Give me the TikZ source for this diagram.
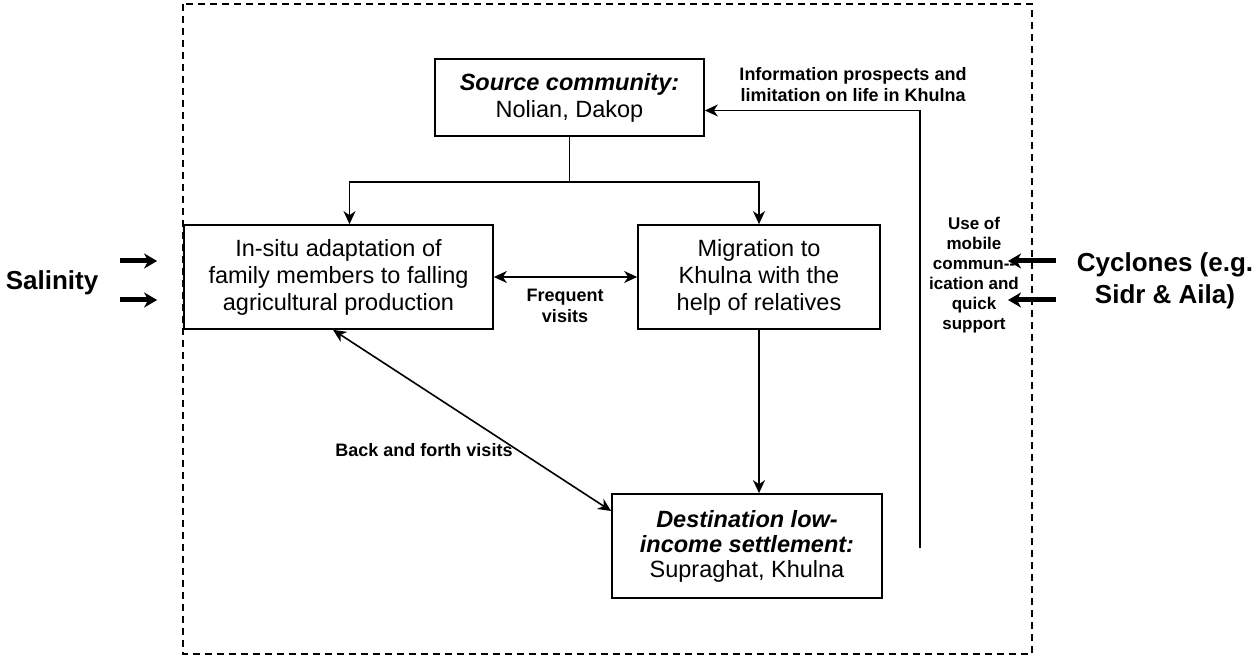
\documentclass[tikz,border=0pt]{standalone}
\usepackage{fontspec}
\setmainfont{Liberation Sans}
\usetikzlibrary{arrows.meta,positioning}
\tikzset{
  placenode/.style={draw,line width=1.7pt,align=center,inner sep=0pt,font=\fontsize{23.5}{27}\selectfont},
  notelabel/.style={align=center,font=\fontsize{18}{21}\selectfont\bfseries},
  bigtext/.style={align=center,font=\fontsize{26}{32}\selectfont\bfseries},
  flow/.style={-{Stealth[length=13pt,width=12pt,inset=4pt]},line width=1.6pt},
  twoflow/.style={{Stealth[length=13pt,width=12pt,inset=4pt]}-{Stealth[length=13pt,width=12pt,inset=4pt]},line width=1.6pt},
  driver/.style={-{Stealth[length=13pt,width=15pt,inset=4pt]},line width=5pt}
}

\begin{document}
\begin{tikzpicture}[x=1pt,y=-1pt]
  \useasboundingbox (0,0) rectangle (1256,660);

  % study frame
  \draw[line width=1.5pt,dash pattern=on 7pt off 5pt] (183,4) rectangle (1032,654);

  % places
  \node[placenode,minimum width=269pt,minimum height=77pt] (source) at (569.5,97.5)
    {\textbf{\textit{Source community:}}\\Nolian, Dakop};
  \node[placenode,minimum width=309pt,minimum height=104pt] (insitu) at (338.5,277)
    {In-situ adaptation of\\family members to falling\\agricultural production};
  \node[placenode,minimum width=242pt,minimum height=104pt] (migration) at (759,277)
    {Migration to\\Khulna with the\\help of relatives};
  \node[placenode,minimum width=270pt,minimum height=104pt,font=\fontsize{23.5}{25}\selectfont] (destination) at (747,546)
    {\textbf{\textit{Destination low-}}\\\textbf{\textit{income settlement:}}\\Supraghat, Khulna};

  % drivers
  \node[bigtext] (salinity) at (52,283) {Salinity};
  \node[bigtext] (cyclones) at (1165,281) {Cyclones (e.g.\\Sidr \& Aila)};
  \coordinate (salt1) at (120,261);
  \coordinate (salt2) at (120,300);
  \coordinate (storm1) at (1056,261);
  \coordinate (storm2) at (1056,300);
  \coordinate (storm1end) at (1008,261);
  \coordinate (storm2end) at (1008,300);
  \draw[driver,shorten >=26pt] (salt1) -- (salt1 -| insitu.west);
  \draw[driver,shorten >=26pt] (salt2) -- (salt2 -| insitu.west);
  \draw[driver] (storm1) -- (storm1end);
  \draw[driver] (storm2) -- (storm2end);

  % links
  \draw[line width=1.6pt] (source.south) -- ++(0,45) coordinate (split);
  \draw[flow] (split) -| ([xshift=11pt]insitu.north);
  \draw[flow] (split) -| (migration.north);
  \draw[twoflow] (insitu) -- (migration);
  \node[notelabel] (frequent) at (565,306) {Frequent\\visits};
  \draw[flow] (migration.south) -- (migration.south |- destination.north);
  \draw[twoflow] ([xshift=-5.5pt]insitu.south) -- ([yshift=35pt]destination.west);
  \node[notelabel] (backforth) at (424,450) {Back and forth visits};

  % feedback to source
  \coordinate (feedback) at (920,548);
  \draw[flow] (feedback) |- ([yshift=-13pt]source.east);
  \node[notelabel] (info) at (853,85) {Information prospects and\\limitation on life in Khulna};
  \node[notelabel,font=\fontsize{17}{20}\selectfont\bfseries] (mobile) at (974,275)
    {Use of\\mobile\\commun-\kern0pt-\\ication and\\quick\\support};
\end{tikzpicture}
\end{document}
